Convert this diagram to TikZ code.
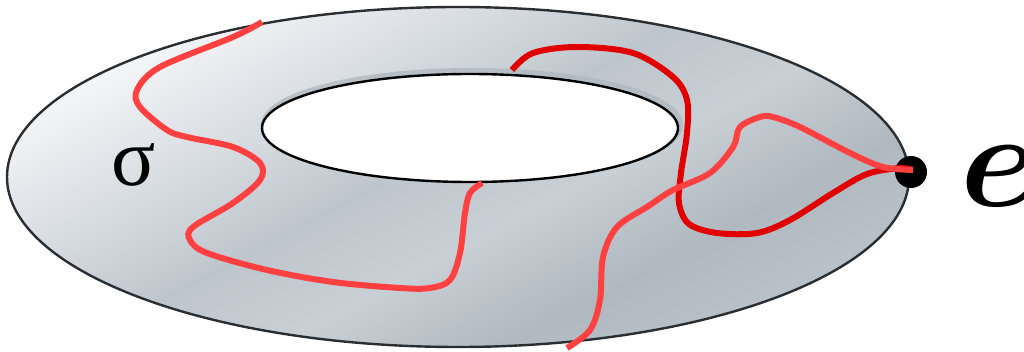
\documentclass[tikz,border=0pt]{standalone}
\usepackage{bm}
\usepackage{fontspec}
\newfontfamily\lserif{Liberation Serif}
\definecolor{lred}{HTML}{FF4040}
\definecolor{dred}{HTML}{E00000}
\definecolor{gA}{HTML}{F6F7F8}
\definecolor{gB}{HTML}{D8DDE2}
\definecolor{gC}{HTML}{BEC6CD}
\definecolor{gD}{HTML}{C8CFD5}
\definecolor{gE}{HTML}{B0B9C0}
\definecolor{gF}{HTML}{C0C8CE}
\definecolor{rim}{HTML}{2A2E31}
\pgfdeclarehorizontalshading{torusshade}{100bp}{color(0bp)=(gA); color(25bp)=(gA); color(37bp)=(gB); color(47bp)=(gC); color(56bp)=(gD); color(66bp)=(gE); color(80bp)=(gF); color(100bp)=(gE)}
\tikzset{
  curve/.style={line width=6pt, smooth, tension=0.55},
}
\begin{document}
\begin{tikzpicture}[x=1pt,y=-1pt]
\useasboundingbox (0,0) rectangle (1024,352);
% surface
\path[shading=torusshade, shading angle=-62, even odd rule]
  (458,177) ellipse [x radius=451, y radius=170]
  (470,128) ellipse [x radius=208, y radius=54];
% hole rim shadow
\draw[color=gE, line width=6pt, opacity=0.8] (472,125) ellipse [x radius=208, y radius=54];
\fill[white] (470,128) ellipse [x radius=208, y radius=54];
\draw[black, line width=2.4pt] (470,128) ellipse [x radius=208, y radius=54];
\draw[rim, line width=2.4pt] (458,177) ellipse [x radius=451, y radius=170];
% base point
\node[circle, fill=black, minimum size=32pt, inner sep=0pt] (dot) at (911,172) {};
\node[scale=13.6] (elabel) at (998,176) {$\bm{e}$};
\node[font=\lserif\fontsize{82}{82}\selectfont, inner sep=0pt] (sigma) at (134,165) {σ};
% curves
\draw[dred, curve] plot coordinates {(512,70) (533,53) (577,47) (633,53) (673,77) (687,100) (687,133) (681,173) (679,203) (689,224) (717,233) (757,233) (790,220) (833,193) (867,174) (900,168) (912,170)};
\draw[lred, curve] plot coordinates {(262,22) (233,37) (160,67) (137,90) (140,107) (167,130) (187,137) (233,147) (260,163) (260,180) (233,203) (193,227) (190,240) (207,253) (267,270) (333,282) (400,288) (430,288) (450,280) (460,253) (465,213) (470,193) (482,183)};
\draw[lred, curve] plot coordinates {(567,348) (590,330) (600,300) (603,257) (617,227) (647,207) (653,203) (673,190) (710,173) (733,147) (740,127) (760,117) (773,117) (800,127) (850,153) (883,167) (913,170)};
\end{tikzpicture}
\end{document}
